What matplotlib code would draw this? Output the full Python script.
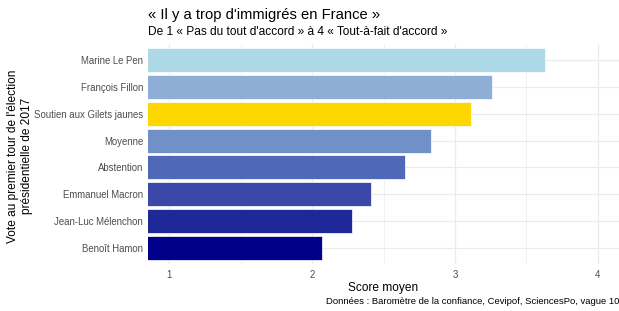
import matplotlib.pyplot as plt

plt.rcParams['font.family'] = ['Liberation Sans', 'DejaVu Sans']

# categories top to bottom
labels = ["Marine Le Pen", "François Fillon", "Soutien aux Gilets jaunes", "Moyenne",
          "Abstention", "Emmanuel Macron", "Jean-Luc Mélenchon", "Benoît Hamon"]
scores = [3.63, 3.26, 3.11, 2.83, 2.65, 2.41, 2.28, 2.07]
colors = ["#ADD8E6", "#8FAED6", "#FFD700", "#7090C8", "#5068B8", "#3A48A8", "#1E2898", "#00008B"]
ticks = [1, 2, 3, 4]

fig = plt.figure(figsize=(6.19, 3.11), dpi=100)
ax = fig.add_axes([148/619, 1 - 264/311, 471/619, 220/311])

ypos = list(range(len(labels)))[::-1]
ax.barh(ypos, scores, height=0.9, color=colors, edgecolor="white", linewidth=0.5, zorder=2)

ax.set_xlim(0.85, 4.15)
ax.set_ylim(-0.6, len(labels) - 0.4)
ax.set_xticks(ticks)
ax.set_xticks([1.5, 2.5, 3.5], minor=True)
ax.set_yticks(ypos)
ax.set_yticklabels(labels)
ax.tick_params(axis='both', length=0, labelsize=6.9, labelcolor="#4D4D4D")
ax.tick_params(axis='x', pad=4)
ax.tick_params(axis='x', which='minor', length=0)
ax.grid(True, which='major', color="#EBEBEB", linewidth=0.9, zorder=0)
ax.grid(True, which='minor', axis='x', color="#EBEBEB", linewidth=0.5, zorder=0)
for s in ax.spines.values():
    s.set_visible(False)

ax.set_xlabel("Score moyen", fontsize=8.6, labelpad=2)
fig.text(20/619, 1 - 156/311, "Vote au premier tour de l'élection\nprésidentielle de 2017",
         fontsize=8.6, rotation=90, ha='center', va='center', multialignment='center',
         linespacing=1.15)

fig.text(148/619, 1 - 15/311, "« Il y a trop d'immigrés en France »", fontsize=10.6, va='center', ha='left')
fig.text(148/619, 1 - 32/311, "De 1 « Pas du tout d'accord » à 4 « Tout-à-fait d'accord »", fontsize=8.6, va='center', ha='left')
fig.text(1.0, 1 - 302/311, "Données : Baromètre de la confiance, Cevipof, SciencesPo, vague 10", fontsize=6.8, va='center', ha='right')

fig.savefig("out.png", dpi=100, facecolor="white")
